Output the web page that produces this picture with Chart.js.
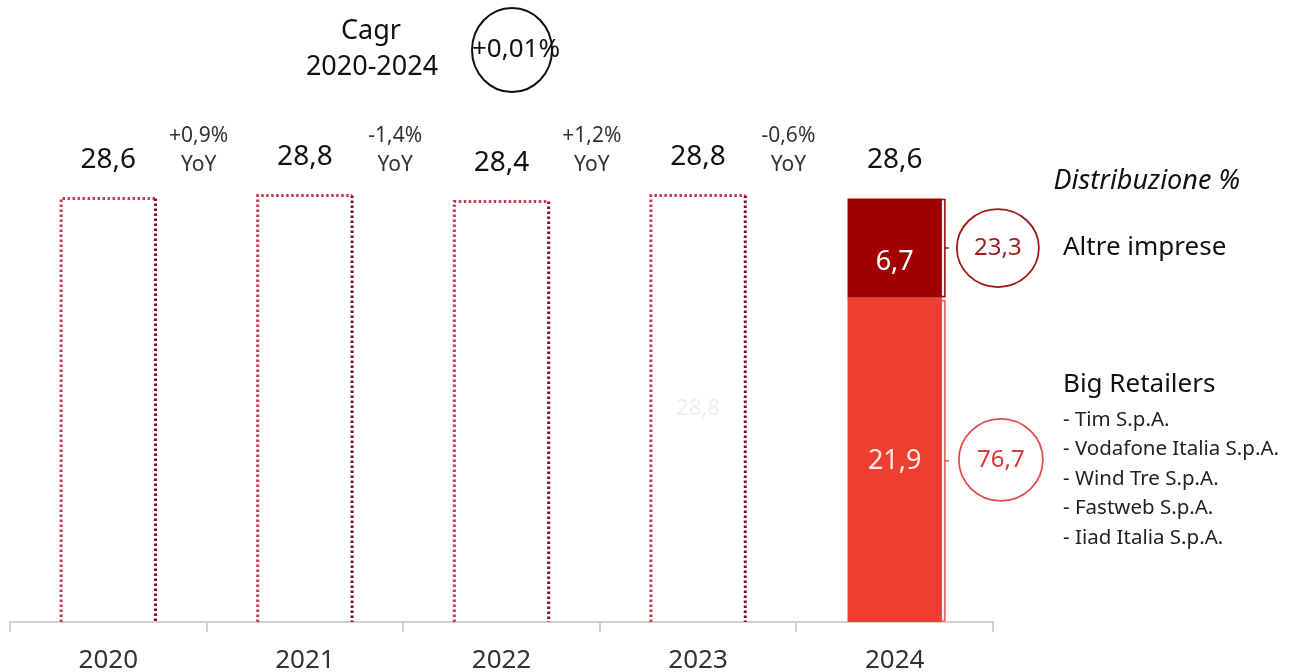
<!DOCTYPE html>
<html>
<head>
<meta charset="utf-8">
<script src="https://cdn.jsdelivr.net/npm/chart.js@4"></script>
<style>
  html, body { margin: 0; padding: 0; background: #fff; overflow: hidden; }
  #wrap { width: 1291px; height: 674px; }
</style>
</head>
<body>
<div id="wrap"><canvas id="chart" width="1291" height="674"></canvas></div>
<script>
// Data
const categories = ['2020', '2021', '2022', '2023', '2024'];
const totals = [28.6, 28.8, 28.4, 28.8, 28.6];
const outlineTotals = [28.6, 28.8, 28.4, 28.8, null];
const bigRetailers = [null, null, null, null, 21.9];
const altreImprese = [null, null, null, null, 6.7];
const yoyLabels = ['+0,9%', '-1,4%', '+1,2%', '-0,6%'];
const sharesPct = [76.7, 23.3]; // Big Retailers, Altre imprese
const cagrLabel = '+0,01%';
const bigRetailerNames = ['Tim S.p.A.', 'Vodafone Italia S.p.A.', 'Wind Tre S.p.A.', 'Fastweb S.p.A.', 'Iiad Italia S.p.A.'];

const FONT = '"Noto Sans", "Open Sans", sans-serif';
const fmt = v => v.toFixed(1).replace('.', ',');

function text(ctx, t, x, y, size, color, opts = {}) {
    ctx.save();
    ctx.font = (opts.style || 'normal') + ' ' + (opts.weight || 400) + ' ' + size + 'px ' + FONT;
    ctx.fillStyle = color;
    ctx.textAlign = opts.align || 'center';
    ctx.textBaseline = 'middle';
    ctx.fillText(t, x, y);
    ctx.restore();
}

function ellipse(ctx, x, y, rx, ry, color, w) {
    ctx.save();
    ctx.beginPath();
    ctx.ellipse(x, y, rx, ry, 0, 0, Math.PI * 2);
    ctx.strokeStyle = color;
    ctx.lineWidth = w;
    ctx.stroke();
    ctx.restore();
}

function bracket(ctx, x, top, bottom, color) {
    ctx.save();
    ctx.strokeStyle = color;
    ctx.lineWidth = 1.6;
    ctx.beginPath();
    ctx.moveTo(x - 4, top);
    ctx.lineTo(x, top);
    ctx.lineTo(x, bottom);
    ctx.lineTo(x - 4, bottom);
    const mid = (top + bottom) / 2;
    ctx.moveTo(x, mid);
    ctx.lineTo(x + 4, mid);
    ctx.stroke();
    ctx.restore();
}

const annotations = {
    id: 'annotations',
    afterDatasetsDraw(chart) {
        const ctx = chart.ctx;
        const x = chart.scales.x;
        const outline = chart.getDatasetMeta(0).data;
        const bigBars = chart.getDatasetMeta(1).data;
        const altreBars = chart.getDatasetMeta(2).data;

        // dotted outlines for the previous years
        outline.forEach((bar, i) => {
            if (outlineTotals[i] == null) return;
            const l = bar.x - bar.width / 2, r = bar.x + bar.width / 2;
            const t = bar.y, b = bar.base;
            ctx.save();
            ctx.lineWidth = 3;
            ctx.setLineDash([2.5, 2.5]);
            ctx.strokeStyle = '#c93a4a';
            ctx.beginPath(); ctx.moveTo(l, b); ctx.lineTo(l, t); ctx.lineTo(r, t); ctx.stroke();
            ctx.strokeStyle = '#7d1128';
            ctx.beginPath(); ctx.moveTo(r, t); ctx.lineTo(r, b); ctx.stroke();
            ctx.restore();
        });

        // ghost label inside 2023
        const b23 = outline[3];
        text(ctx, fmt(totals[3]), b23.x, (b23.y + b23.base) / 2, 22, '#eeeeee');

        // totals above bars
        totals.forEach((v, i) => {
            const top = i < 4 ? outline[i].y : altreBars[i].y;
            text(ctx, fmt(v), x.getPixelForTick(i), top - 38, 28, '#111');
        });

        // YoY between bars
        yoyLabels.forEach((lab, i) => {
            const bx = (x.getPixelForTick(i) + x.getPixelForTick(i + 1)) / 2 - 8;
            text(ctx, lab, bx, 136, 21, '#333');
            text(ctx, 'YoY', bx, 165, 21, '#333');
        });

        // x labels
        categories.forEach((c, i) => {
            text(ctx, c, x.getPixelForTick(i), 661, 26, '#333');
        });

        // 2024 stacked segments
        const a = altreBars[4], g = bigBars[4];
        text(ctx, fmt(altreImprese[4]), a.x, (a.y + a.base) / 2 + 14, 27, '#fff');
        text(ctx, fmt(bigRetailers[4]), g.x, (g.y + g.base) / 2 + 1, 27, '#fde8e4');

        const right = a.x + a.width / 2;
        bracket(ctx, right + 3, a.y + 1, a.base - 1, '#8e1414');
        bracket(ctx, g.x + g.width / 2 + 3, g.y + 3, g.base - 1, '#e06060');

        const aMid = (a.y + a.base) / 2;
        const gMid = (g.y + g.base) / 2;
        ellipse(ctx, right + 56, aMid, 41, 39, '#a01818', 1.8);
        text(ctx, fmt(sharesPct[1]), right + 56, aMid, 24, '#9c1c1c');
        ellipse(ctx, right + 59, gMid, 42, 41, '#e05050', 1.8);
        text(ctx, fmt(sharesPct[0]), right + 59, gMid, 24, '#d83838');

        // right side texts
        text(ctx, 'Distribuzione %', 1240, 181, 27, '#111', { align: 'right', style: 'italic' });
        text(ctx, 'Altre imprese', 1063, aMid, 26, '#111', { align: 'left' });
        text(ctx, 'Big Retailers', 1063, 385, 26, '#111', { align: 'left' });
        bigRetailerNames.forEach((n, i) => {
            text(ctx, '- ' + n, 1063, 420 + i * 29.5, 20.5, '#222', { align: 'left' });
        });

        // Cagr
        text(ctx, 'Cagr', 371, 31, 27, '#111');
        text(ctx, '2020-2024', 372, 67, 27, '#111');
        ellipse(ctx, 512, 50, 40, 42, '#111', 2);
        text(ctx, cagrLabel, 516, 50, 26, '#111');
    }
};

new Chart(document.getElementById('chart'), {
    type: 'bar',
    data: {
        labels: categories,
        datasets: [
            { label: 'Totale', data: outlineTotals, backgroundColor: 'rgba(0,0,0,0)', borderWidth: 0, stack: 's' },
            { label: 'Big Retailers', data: bigRetailers, backgroundColor: '#ec3f31', borderWidth: 0, stack: 's' },
            { label: 'Altre imprese', data: altreImprese, backgroundColor: '#a00000', borderWidth: 0, stack: 's' }
        ]
    },
    options: {
        responsive: false,
        animation: false,
        layout: { padding: { left: 10, right: 298, top: 0, bottom: 42 } },
        datasets: { bar: { categoryPercentage: 1, barPercentage: 0.48 } },
        plugins: { legend: { display: false }, tooltip: { enabled: false } },
        scales: {
            x: {
                stacked: true,
                grid: { offset: true, drawOnChartArea: false, drawTicks: true, tickLength: 10, color: '#cfcfcf', lineWidth: 2 },
                border: { display: true, color: '#d0d0d0', width: 2 },
                ticks: { display: false }
            },
            y: {
                stacked: true,
                display: false,
                min: 0,
                max: 42
            }
        }
    },
    plugins: [annotations]
});
</script>
</body>
</html>
